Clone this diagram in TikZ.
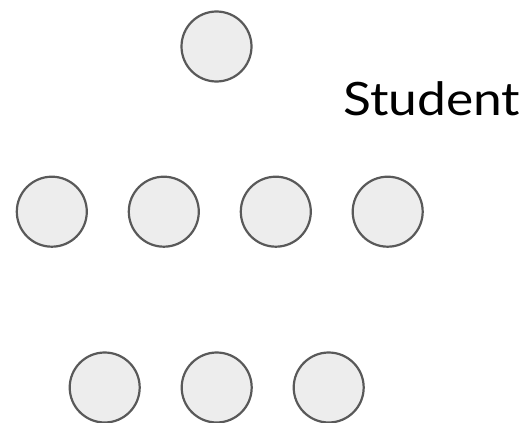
\documentclass[tikz,border=0pt]{standalone}
\usepackage{fontspec}
\setmainfont{Lato}
\begin{document}
\begin{tikzpicture}[x=1pt,y=-1pt,
  dot/.style={circle,draw=black!65,line width=2.2pt,fill=black!7,minimum size=70pt,inner sep=0pt}]
\useasboundingbox (0,0) rectangle (523,423);
\node[dot] (t) at (216.5,46.5) {};
\node[dot] (a1) at (51.8,211.7) {};
\node[dot] (a2) at (163.8,211.7) {};
\node[dot] (a3) at (275.8,211.7) {};
\node[dot] (a4) at (387.7,211.7) {};
\node[dot] (b1) at (104.7,387.5) {};
\node[dot] (b2) at (216.7,387.5) {};
\node[dot] (b3) at (328.7,387.5) {};
\node[anchor=base west,inner sep=0pt,font=\fontsize{46}{50}\selectfont] (s) at (343,115) {\scalebox{1.12}[1]{Student}};
\end{tikzpicture}
\end{document}
